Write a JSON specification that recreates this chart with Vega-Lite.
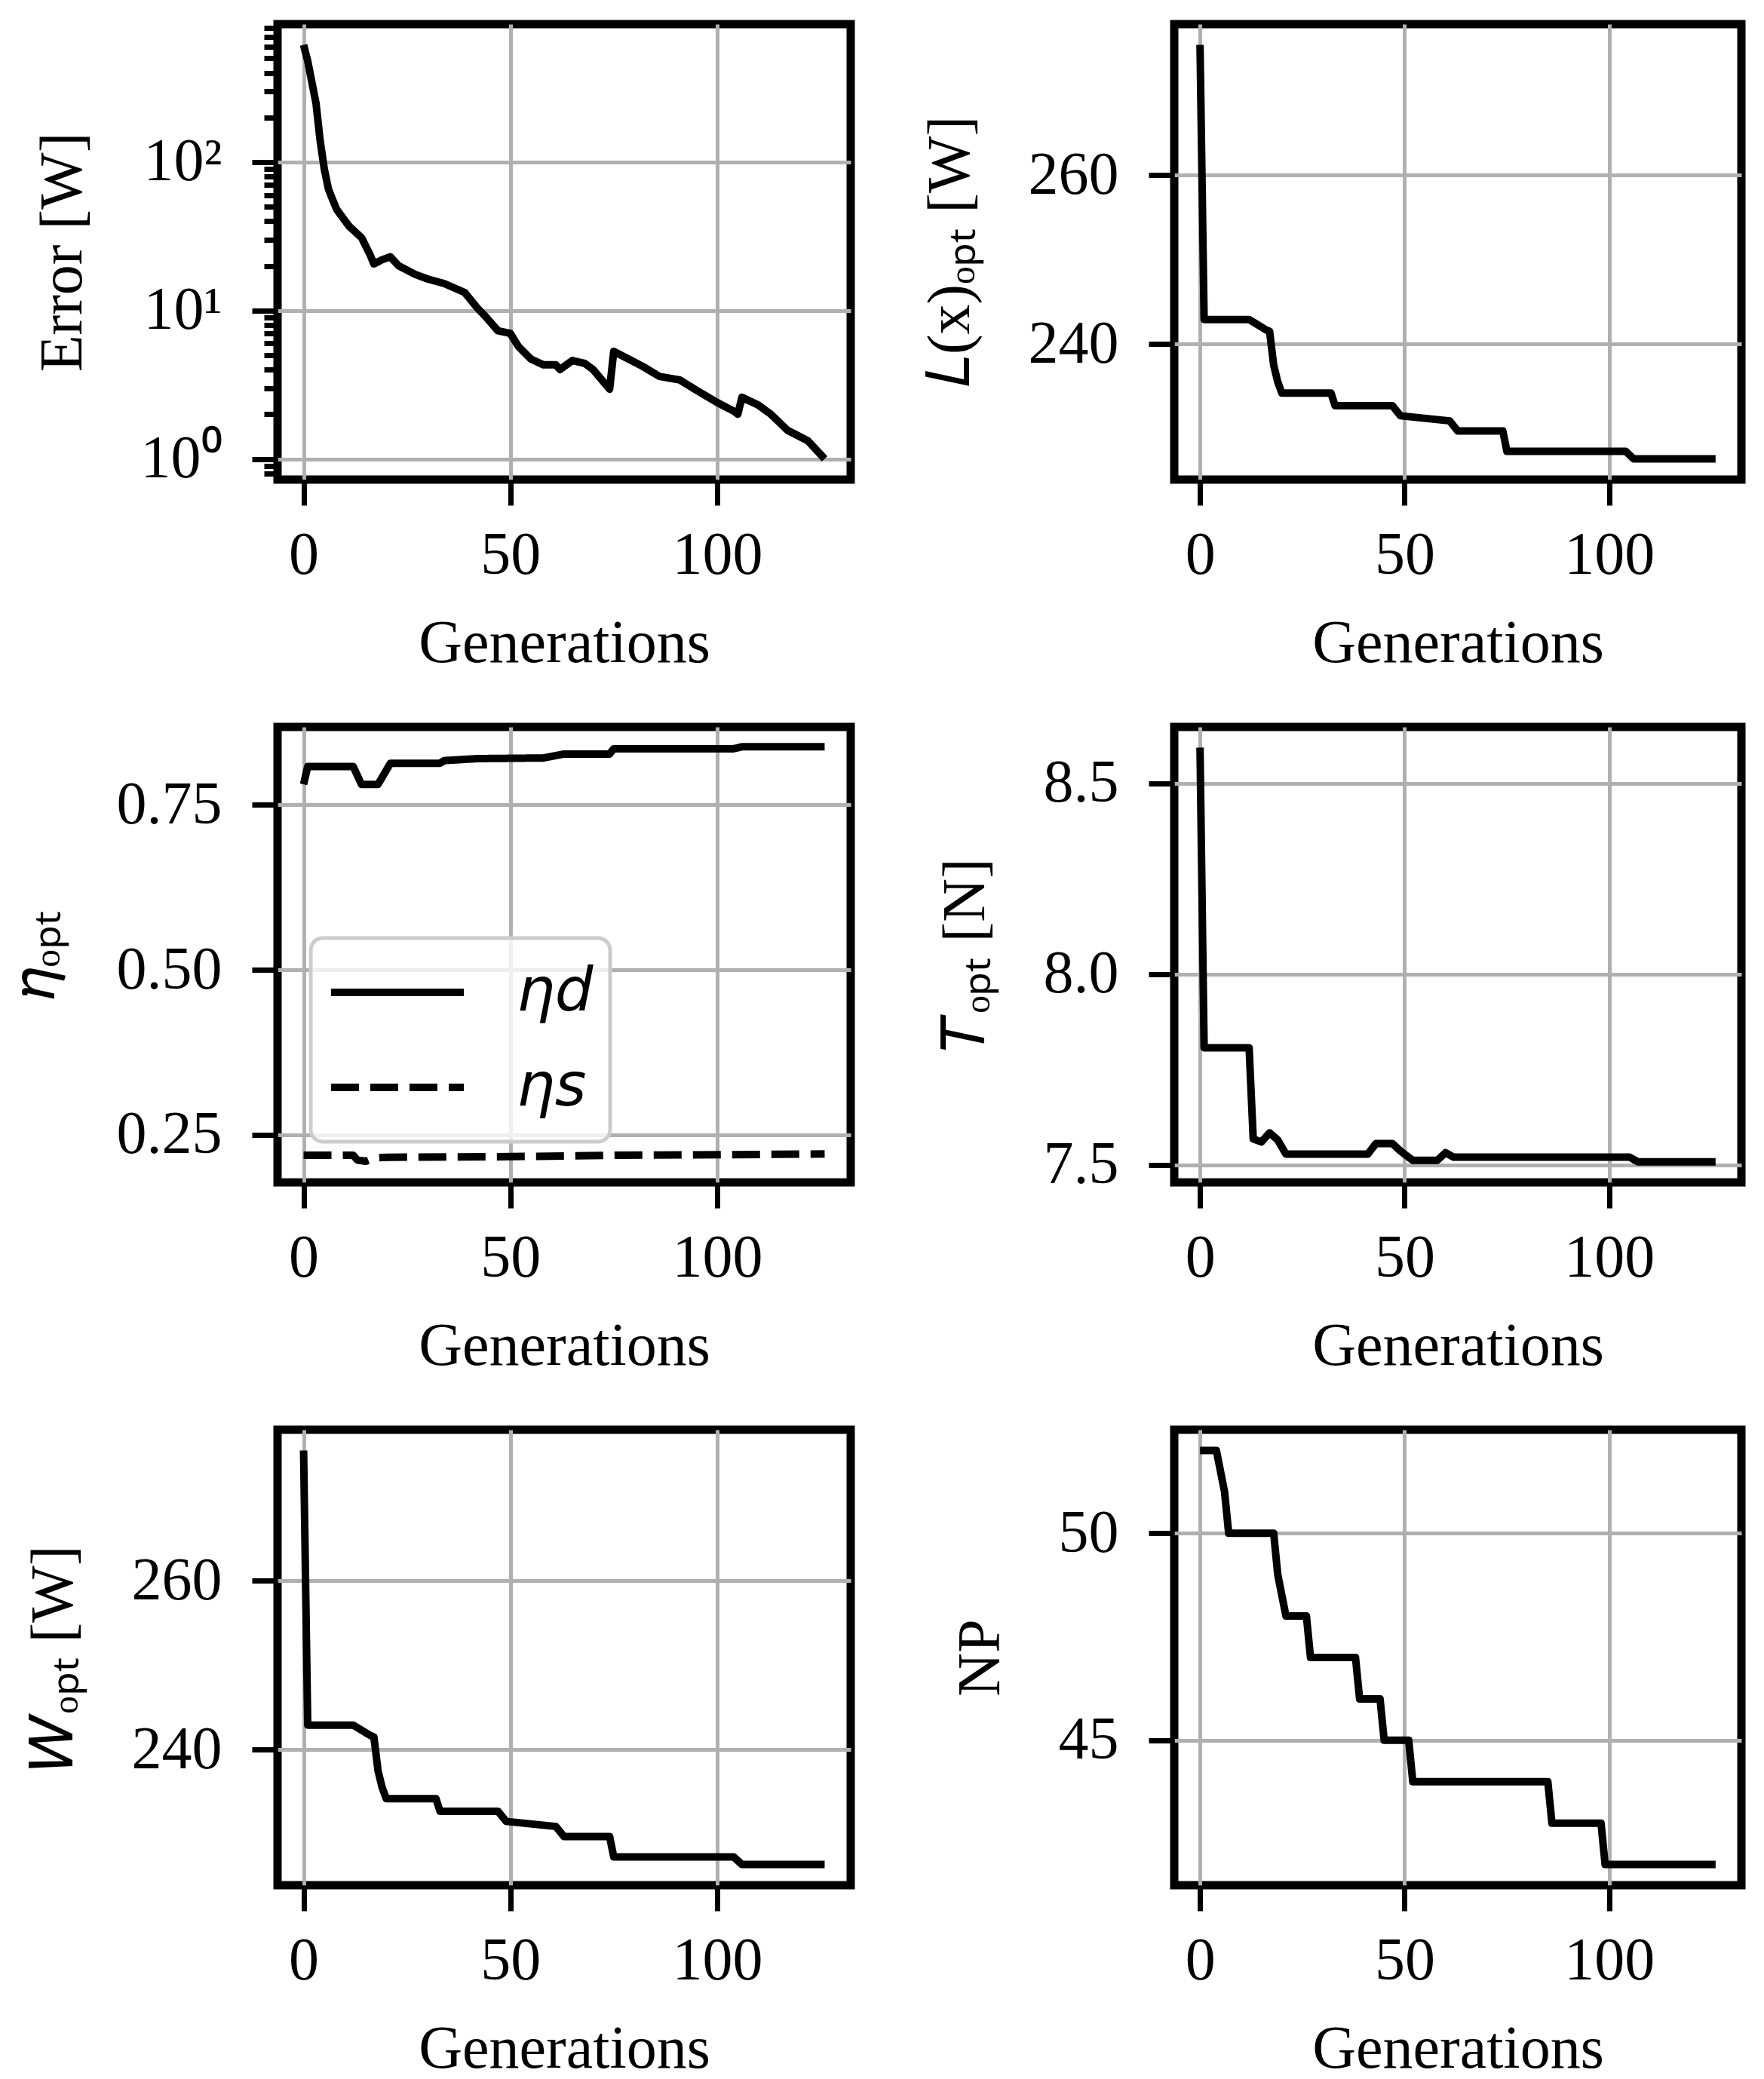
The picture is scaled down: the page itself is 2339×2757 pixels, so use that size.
{
  "$schema": "https://vega.github.io/schema/vega-lite/v6.json",
  "background": "white",
  "padding": {"left": 1, "top": 26, "right": 10, "bottom": 5},
  "columns": 2,
  "bounds": "flush",
  "spacing": {"row": 328, "column": 429},
  "resolve": {"legend": {"strokeDash": "independent"}},
  "config": {
    "font": "Liberation Serif",
    "view": {"stroke": "black", "strokeWidth": 11},
    "legend": {"strokeWidth": 5},
    "axis": {
      "domain": false,
      "grid": true,
      "gridColor": "#b0b0b0",
      "gridWidth": 5,
      "tickColor": "black",
      "tickWidth": 7,
      "tickSize": 34,
      "labelFont": "Liberation Serif",
      "labelFontSize": 80,
      "labelColor": "black",
      "labelFlush": false,
      "labelOverlap": false,
      "titleFont": "Liberation Serif",
      "titleFontSize": 80,
      "titleFontWeight": "normal",
      "titleColor": "black"
    },
    "axisX": {"labelPadding": 27, "titlePadding": 38},
    "axisY": {"labelPadding": 40, "titlePadding": 62}
  },
  "datasets": {
    "err": [
      {"g": 0, "v": 617}, {"g": 1, "v": 480}, {"g": 3, "v": 250}, {"g": 4, "v": 140},
      {"g": 5, "v": 90}, {"g": 6, "v": 66}, {"g": 7, "v": 56}, {"g": 8, "v": 48},
      {"g": 11, "v": 37}, {"g": 14, "v": 31}, {"g": 16, "v": 24}, {"g": 17, "v": 20.6},
      {"g": 19, "v": 22}, {"g": 21, "v": 23}, {"g": 23, "v": 20}, {"g": 27, "v": 17.5},
      {"g": 30, "v": 16.3}, {"g": 34, "v": 15.2}, {"g": 39, "v": 13.2}, {"g": 42, "v": 10.4},
      {"g": 44, "v": 9.1}, {"g": 47, "v": 7.3}, {"g": 50, "v": 7.0}, {"g": 52, "v": 5.7},
      {"g": 55, "v": 4.7}, {"g": 58, "v": 4.3}, {"g": 61, "v": 4.3}, {"g": 62, "v": 4.0},
      {"g": 65, "v": 4.6}, {"g": 68, "v": 4.4}, {"g": 70, "v": 4.0}, {"g": 74, "v": 2.95},
      {"g": 75, "v": 5.3}, {"g": 78, "v": 4.8}, {"g": 82, "v": 4.2}, {"g": 86, "v": 3.6},
      {"g": 91, "v": 3.4}, {"g": 95, "v": 2.9}, {"g": 100, "v": 2.4}, {"g": 104, "v": 2.1},
      {"g": 105, "v": 2.0}, {"g": 106, "v": 2.6}, {"g": 110, "v": 2.3}, {"g": 113, "v": 2.0},
      {"g": 117, "v": 1.56}, {"g": 122, "v": 1.32}, {"g": 126, "v": 1.0}
    ],
    "lx": [
      {"g": 0, "v": 275.4}, {"g": 1, "v": 242.9}, {"g": 12, "v": 242.9}, {"g": 13, "v": 242.6},
      {"g": 16, "v": 241.7}, {"g": 17, "v": 241.5}, {"g": 18, "v": 237.5}, {"g": 19, "v": 235.5},
      {"g": 20, "v": 234.2}, {"g": 32, "v": 234.2}, {"g": 33, "v": 232.7}, {"g": 47, "v": 232.7},
      {"g": 49, "v": 231.5}, {"g": 61, "v": 230.9}, {"g": 63, "v": 229.7}, {"g": 74, "v": 229.7},
      {"g": 75, "v": 227.3}, {"g": 104, "v": 227.3}, {"g": 106, "v": 226.4}, {"g": 126, "v": 226.4}
    ],
    "eta": [
      {"g": 0, "v": 0.781, "s": "ηd"}, {"g": 1, "v": 0.808, "s": "ηd"}, {"g": 12, "v": 0.808, "s": "ηd"},
      {"g": 14, "v": 0.781, "s": "ηd"}, {"g": 18, "v": 0.781, "s": "ηd"}, {"g": 21, "v": 0.813, "s": "ηd"},
      {"g": 33, "v": 0.813, "s": "ηd"}, {"g": 34, "v": 0.817, "s": "ηd"}, {"g": 42, "v": 0.82, "s": "ηd"},
      {"g": 58, "v": 0.821, "s": "ηd"}, {"g": 63, "v": 0.827, "s": "ηd"}, {"g": 74, "v": 0.827, "s": "ηd"},
      {"g": 75, "v": 0.835, "s": "ηd"}, {"g": 104, "v": 0.835, "s": "ηd"}, {"g": 106, "v": 0.838, "s": "ηd"},
      {"g": 126, "v": 0.838, "s": "ηd"},
      {"g": 0, "v": 0.219, "s": "ηs"}, {"g": 12, "v": 0.219, "s": "ηs"}, {"g": 13, "v": 0.212, "s": "ηs"},
      {"g": 15, "v": 0.21, "s": "ηs"}, {"g": 17, "v": 0.215, "s": "ηs"}, {"g": 20, "v": 0.216, "s": "ηs"},
      {"g": 50, "v": 0.217, "s": "ηs"}, {"g": 75, "v": 0.219, "s": "ηs"}, {"g": 126, "v": 0.221, "s": "ηs"}
    ],
    "tq": [
      {"g": 0, "v": 8.594}, {"g": 1, "v": 7.807}, {"g": 12, "v": 7.807}, {"g": 13, "v": 7.568},
      {"g": 15, "v": 7.56}, {"g": 17, "v": 7.584}, {"g": 19, "v": 7.565}, {"g": 21, "v": 7.528},
      {"g": 41, "v": 7.528}, {"g": 43, "v": 7.556}, {"g": 47, "v": 7.556}, {"g": 49, "v": 7.536},
      {"g": 52, "v": 7.512}, {"g": 58, "v": 7.512}, {"g": 60, "v": 7.532}, {"g": 62, "v": 7.52},
      {"g": 105, "v": 7.52}, {"g": 107, "v": 7.508}, {"g": 126, "v": 7.508}
    ],
    "np": [
      {"g": 0, "v": 52}, {"g": 4, "v": 52}, {"g": 6, "v": 51}, {"g": 7, "v": 50},
      {"g": 18, "v": 50}, {"g": 19, "v": 49}, {"g": 21, "v": 48}, {"g": 26, "v": 48},
      {"g": 27, "v": 47}, {"g": 38, "v": 47}, {"g": 39, "v": 46}, {"g": 44, "v": 46},
      {"g": 45, "v": 45}, {"g": 51, "v": 45}, {"g": 52, "v": 44}, {"g": 85, "v": 44},
      {"g": 86, "v": 43}, {"g": 98, "v": 43}, {"g": 99, "v": 42}, {"g": 126, "v": 42}
    ]
  },
  "concat": [
    {
      "width": 760,
      "height": 604,
      "data": {"name": "err"},
      "mark": {"type": "line", "color": "black", "strokeWidth": 10, "strokeJoin": "round", "clip": true},
      "encoding": {
        "x": {"field": "g", "type": "quantitative", "scale": {"domain": [-6.3, 132.3], "nice": false, "zero": false}, "axis": {"values": [0, 50, 100], "title": "Generations"}},
        "y": {
          "field": "v", "type": "quantitative",
          "scale": {"type": "log", "domain": [0.725, 851], "nice": false},
          "axis": {
            "title": "Error [W]",
            "values": [0.8, 0.9, 1, 2, 3, 4, 5, 6, 7, 8, 9, 10, 20, 30, 40, 50, 60, 70, 80, 90, 100, 200, 300, 400, 500, 600, 700, 800],
            "labelExpr": "datum.value == 1 ? '10⁰' : datum.value == 10 ? '10¹' : datum.value == 100 ? '10²' : ''",
            "labelFontSize": {"condition": {"test": "datum.value == 1 || datum.value == 10 || datum.value == 100", "value": 80}, "value": 1},
            "gridOpacity": {"condition": {"test": "datum.value == 1 || datum.value == 10 || datum.value == 100", "value": 1}, "value": 0},
            "tickSize": {"condition": {"test": "datum.value == 1 || datum.value == 10 || datum.value == 100", "value": 34}, "value": 18}
          }
        }
      }
    },
    {
      "width": 752,
      "height": 604,
      "data": {"name": "lx"},
      "mark": {"type": "line", "color": "black", "strokeWidth": 10, "strokeJoin": "round", "clip": true},
      "encoding": {
        "x": {"field": "g", "type": "quantitative", "scale": {"domain": [-6.3, 132.3], "nice": false, "zero": false}, "axis": {"values": [0, 50, 100], "title": "Generations"}},
        "y": {"field": "v", "type": "quantitative", "scale": {"domain": [223.95, 277.85], "nice": false, "zero": false}, "axis": {"values": [240, 260], "title": "𝐿(x)ₒₚₜ [W]"}}
      }
    },
    {
      "width": 760,
      "height": 604,
      "data": {"name": "eta"},
      "mark": {"type": "line", "color": "black", "strokeWidth": 10, "strokeJoin": "round", "clip": true},
      "encoding": {
        "x": {"field": "g", "type": "quantitative", "scale": {"domain": [-6.3, 132.3], "nice": false, "zero": false}, "axis": {"values": [0, 50, 100], "title": "Generations"}},
        "y": {"field": "v", "type": "quantitative", "scale": {"domain": [0.178, 0.868], "nice": false, "zero": false}, "axis": {"values": [0.25, 0.5, 0.75], "format": ".2f", "title": "𝜂ₒₚₜ", "titlePadding": 80}},
        "strokeDash": {
          "field": "s", "type": "nominal",
          "scale": {"domain": ["ηd", "ηs"], "range": [[1, 0], [37, 15]]},
          "legend": {
            "title": null,
            "orient": "none",
            "legendX": 44,
            "legendY": 280,
            "symbolType": "stroke",
            "symbolSize": 30976,
            "symbolStrokeWidth": 10,
            "symbolStrokeColor": "black",
            "clipHeight": 100,
            "labelFont": "DejaVu Sans",
            "labelFontStyle": "italic",
            "labelFontSize": 80,
            "labelColor": "black",
            "labelOffset": 65,
            "rowPadding": 26,
            "padding": 22,
            "fillColor": "rgba(255,255,255,0.8)",
            "strokeColor": "#cccccc",
            "cornerRadius": 16
          }
        }
      }
    },
    {
      "width": 752,
      "height": 604,
      "data": {"name": "tq"},
      "mark": {"type": "line", "color": "black", "strokeWidth": 10, "strokeJoin": "round", "clip": true},
      "encoding": {
        "x": {"field": "g", "type": "quantitative", "scale": {"domain": [-6.3, 132.3], "nice": false, "zero": false}, "axis": {"values": [0, 50, 100], "title": "Generations"}},
        "y": {"field": "v", "type": "quantitative", "scale": {"domain": [7.454, 8.648], "nice": false, "zero": false}, "axis": {"values": [7.5, 8.0, 8.5], "format": ".1f", "title": "𝑇ₒₚₜ [N]"}}
      }
    },
    {
      "width": 760,
      "height": 604,
      "data": {"name": "lx"},
      "mark": {"type": "line", "color": "black", "strokeWidth": 10, "strokeJoin": "round", "clip": true},
      "encoding": {
        "x": {"field": "g", "type": "quantitative", "scale": {"domain": [-6.3, 132.3], "nice": false, "zero": false}, "axis": {"values": [0, 50, 100], "title": "Generations"}},
        "y": {"field": "v", "type": "quantitative", "scale": {"domain": [223.95, 277.85], "nice": false, "zero": false}, "axis": {"values": [240, 260], "title": "𝑊ₒₚₜ [W]"}}
      }
    },
    {
      "width": 752,
      "height": 604,
      "data": {"name": "np"},
      "mark": {"type": "line", "color": "black", "strokeWidth": 10, "strokeJoin": "round", "clip": true},
      "encoding": {
        "x": {"field": "g", "type": "quantitative", "scale": {"domain": [-6.3, 132.3], "nice": false, "zero": false}, "axis": {"values": [0, 50, 100], "title": "Generations"}},
        "y": {"field": "v", "type": "quantitative", "scale": {"domain": [41.5, 52.5], "nice": false, "zero": false}, "axis": {"values": [45, 50], "title": "NP"}}
      }
    }
  ]
}
